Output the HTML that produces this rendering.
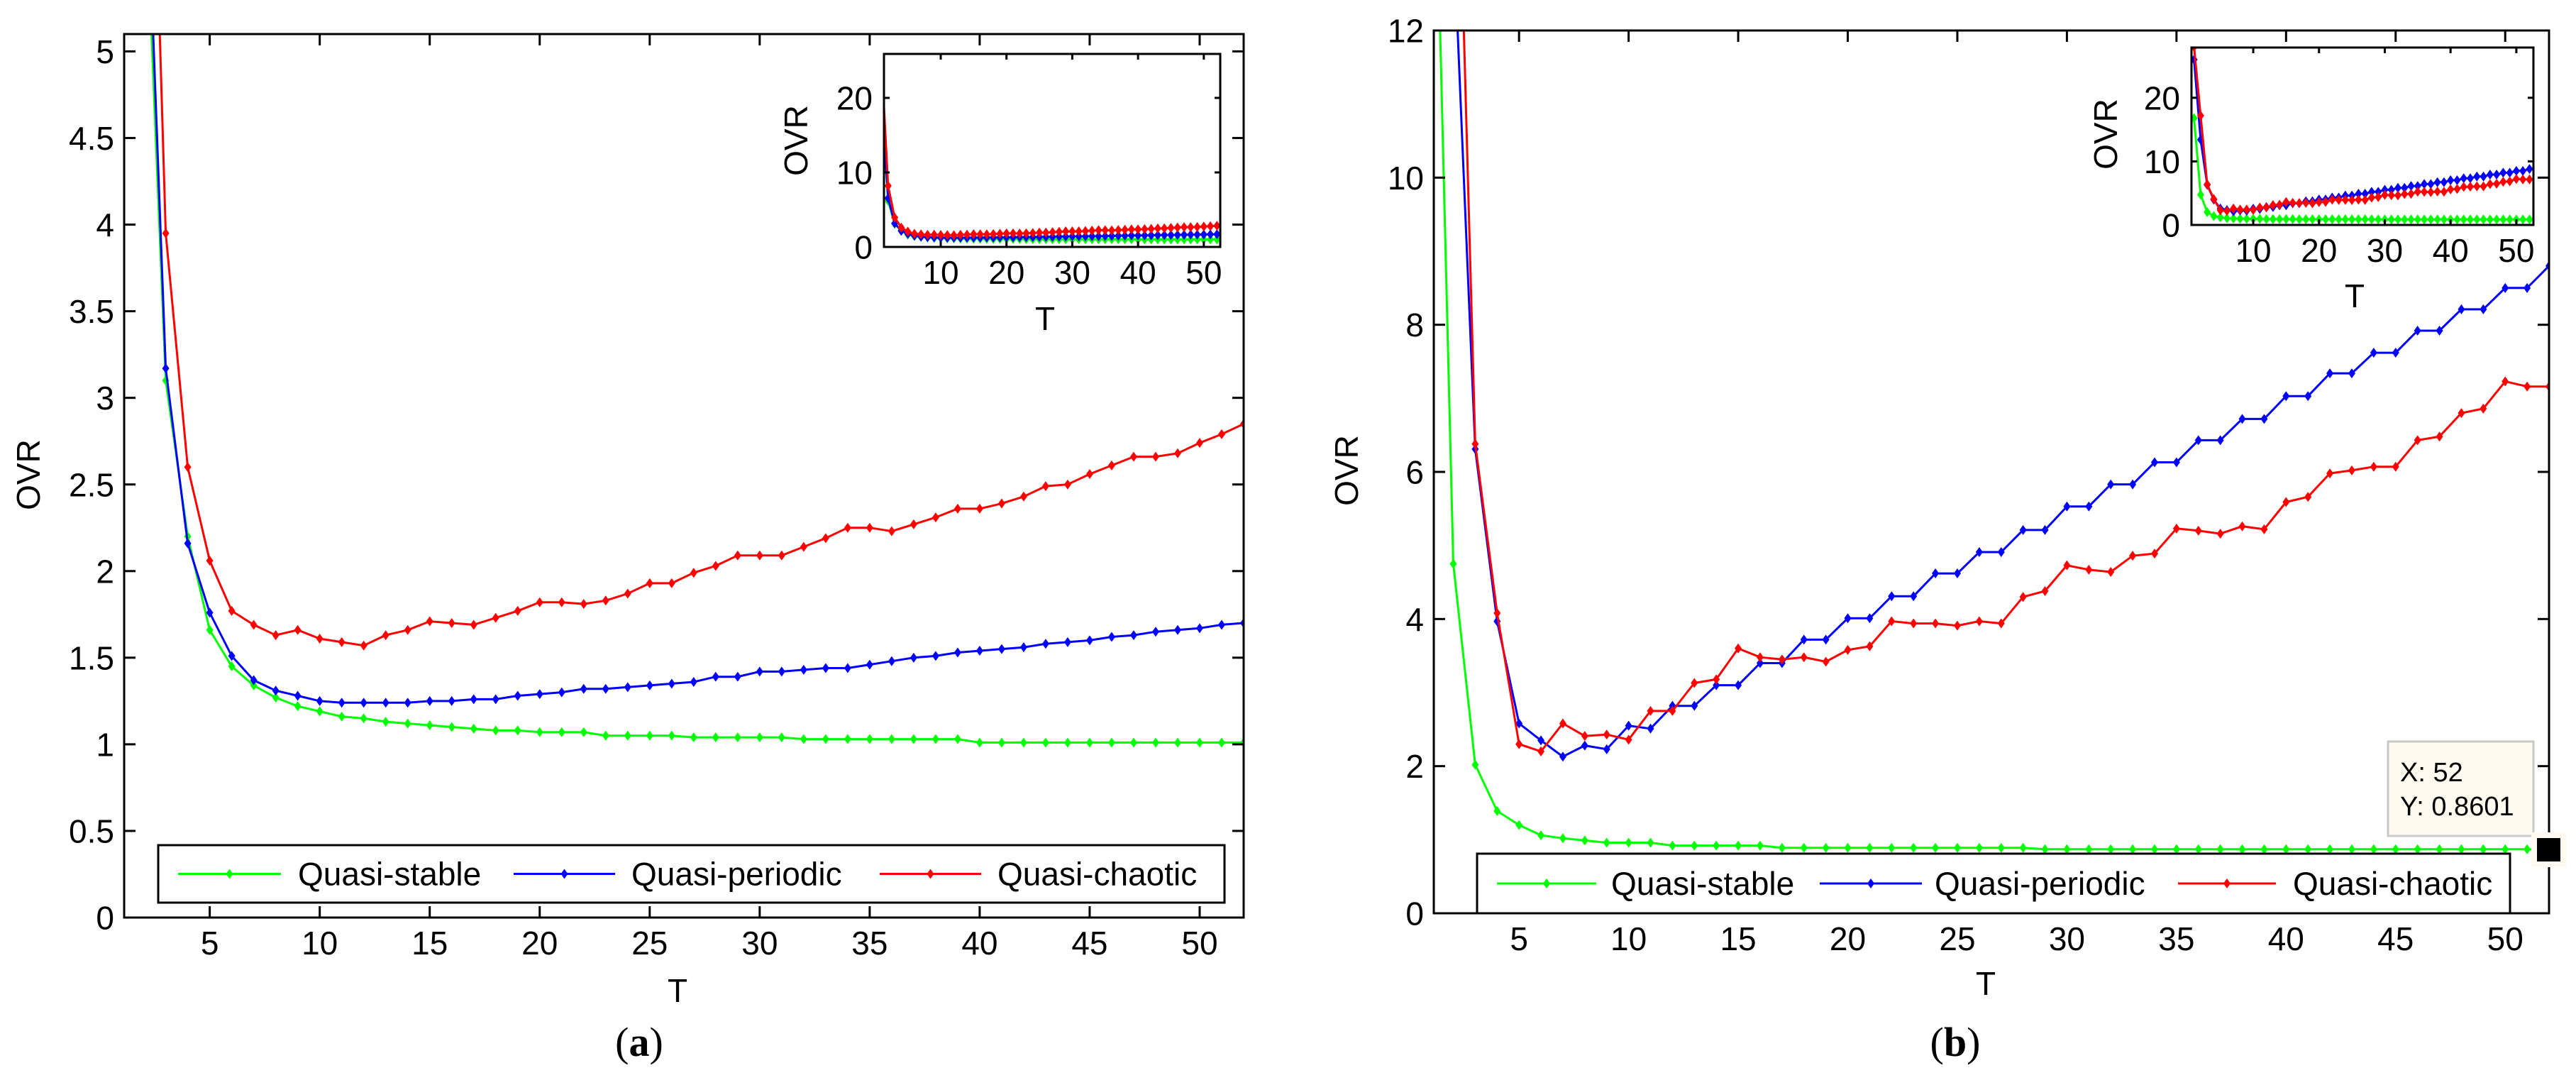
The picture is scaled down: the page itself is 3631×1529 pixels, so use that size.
<!DOCTYPE html>
<html><head><meta charset="utf-8"><style>
html,body{margin:0;padding:0;background:#fff;}
svg{display:block;font-family:"Liberation Sans",Arial,sans-serif;}
</style></head><body>
<svg id="fig" width="3631" height="1529" viewBox="0 0 3631 1529" xmlns="http://www.w3.org/2000/svg"></svg>
<script>
// ---------- data ----------
const tValues = Array.from({length:52},(_,i)=>i+1);
const aStable = [19.5,6.2,3.10,2.20,1.66,1.45,1.34,1.27,1.22,1.19,1.16,1.15,1.13,1.12,1.11,1.10,1.09,1.08,1.08,1.07,1.07,1.07,1.05,1.05,1.05,1.05,1.04,1.04,1.04,1.04,1.04,1.03,1.03,1.03,1.03,1.03,1.03,1.03,1.03,1.01,1.01,1.01,1.01,1.01,1.01,1.01,1.01,1.01,1.01,1.01,1.01,1.01];
const aPeriodic = [20.5,6.55,3.17,2.16,1.76,1.51,1.37,1.31,1.28,1.25,1.24,1.24,1.24,1.24,1.25,1.25,1.26,1.26,1.28,1.29,1.30,1.32,1.32,1.33,1.34,1.35,1.36,1.39,1.39,1.42,1.42,1.43,1.44,1.44,1.46,1.48,1.50,1.51,1.53,1.54,1.55,1.56,1.58,1.59,1.60,1.62,1.63,1.65,1.66,1.67,1.69,1.70];
const aChaotic = [25,8.2,3.95,2.60,2.06,1.77,1.69,1.63,1.66,1.61,1.59,1.57,1.63,1.66,1.71,1.70,1.69,1.73,1.77,1.82,1.82,1.81,1.83,1.87,1.93,1.93,1.99,2.03,2.09,2.09,2.09,2.14,2.19,2.25,2.25,2.23,2.27,2.31,2.36,2.36,2.39,2.43,2.49,2.50,2.56,2.61,2.66,2.66,2.68,2.74,2.79,2.85];
const bStable = [16.8,4.75,2.02,1.39,1.20,1.06,1.02,0.99,0.96,0.96,0.96,0.92,0.92,0.92,0.92,0.92,0.89,0.89,0.89,0.89,0.89,0.89,0.89,0.89,0.89,0.89,0.89,0.89,0.87,0.87,0.87,0.87,0.87,0.87,0.87,0.87,0.87,0.87,0.87,0.87,0.87,0.87,0.87,0.87,0.87,0.87,0.87,0.87,0.87,0.87,0.87,0.86];
const bPeriodic = [26,13.4,6.31,3.97,2.58,2.35,2.13,2.28,2.23,2.55,2.51,2.82,2.82,3.10,3.10,3.40,3.40,3.72,3.72,4.01,4.01,4.31,4.31,4.62,4.62,4.91,4.91,5.21,5.21,5.53,5.53,5.83,5.83,6.13,6.13,6.43,6.43,6.72,6.72,7.03,7.03,7.34,7.34,7.62,7.62,7.92,7.92,8.21,8.21,8.50,8.50,8.80];
const bChaotic = [28,17.2,6.38,4.08,2.30,2.20,2.58,2.41,2.43,2.36,2.75,2.75,3.13,3.18,3.60,3.48,3.45,3.48,3.42,3.58,3.63,3.97,3.94,3.94,3.91,3.97,3.94,4.30,4.38,4.73,4.67,4.64,4.86,4.89,5.23,5.20,5.16,5.26,5.22,5.59,5.66,5.98,6.02,6.07,6.07,6.43,6.48,6.80,6.86,7.23,7.16,7.16];
const seriesNames = ["Quasi-stable","Quasi-periodic","Quasi-chaotic"];
const seriesColors = ["#00ff00","#0000ff","#ff0000"];
const mainXTicks = [5,10,15,20,25,30,35,40,45,50];
const aYTicks = [0,0.5,1,1.5,2,2.5,3,3.5,4,4.5,5];
const bYTicks = [0,2,4,6,8,10,12];
const insetXTicks = [10,20,30,40,50];
const insetYTicks = [0,10,20];

const NS="http://www.w3.org/2000/svg";
const svg=document.getElementById('fig');
let clipN=0;
function mk(tag,attrs,parent){const e=document.createElementNS(NS,tag);for(const k in attrs)e.setAttribute(k,attrs[k]);(parent||svg).appendChild(e);return e;}
function scale(d0,d1,r0,r1){return v=>r0+(v-d0)*(r1-r0)/(d1-d0);}

function drawPanel(p){
  const g=mk('g',{});
  
  
  const X=scale(p.xd[0],p.xd[1],p.L,p.R), Y=scale(p.yd[0],p.yd[1],p.B,p.T);
  const id='clip'+(clipN++);
  const cp=mk('clipPath',{id:id},g); mk('rect',{x:p.L,y:p.T,width:p.R-p.L,height:p.B-p.T},cp);
  mk('rect',{x:p.L,y:p.T,width:p.R-p.L,height:p.B-p.T,fill:'#fff'},g);
  // series
  const sg=mk('g',{'clip-path':'url(#'+id+')'},g);
  p.series.forEach((s,si)=>{
    const pts=tValues.map((t,i)=>X(t).toFixed(1)+','+Y(s[i]).toFixed(1)).join(' ');
    const line=mk('polyline',{points:pts,fill:'none',stroke:seriesColors[si],'stroke-width':p.lw},sg);
    
    
    tValues.forEach((t,i)=>{
      const cx=X(t),cy=Y(s[i]);
      const m=mk('path',{d:`M${cx-p.ms} ${cy}L${cx} ${cy-p.ms*1.4}L${cx+p.ms} ${cy}L${cx} ${cy+p.ms*1.4}Z`,fill:seriesColors[si]},sg);
      
      
    });
  });
  // frame
  mk('rect',{x:p.L,y:p.T,width:p.R-p.L,height:p.B-p.T,fill:'none',stroke:'#000','stroke-width':p.fw},g);
  // ticks
  p.xt.forEach(v=>{const x=X(v);
    mk('line',{x1:x,y1:p.B,x2:x,y2:p.B-p.tl,stroke:'#000','stroke-width':p.fw},g);
    mk('line',{x1:x,y1:p.T,x2:x,y2:p.T+p.tl,stroke:'#000','stroke-width':p.fw},g);
    const t=mk('text',{x:x,y:p.B+p.xlo,'font-size':p.fs,'text-anchor':'middle'},g);t.textContent=v;
    
    
  });
  p.yt.forEach(v=>{const y=Y(v);
    mk('line',{x1:p.L,y1:y,x2:p.L+p.tl,y2:y,stroke:'#000','stroke-width':p.fw},g);
    mk('line',{x1:p.R,y1:y,x2:p.R-p.tl,y2:y,stroke:'#000','stroke-width':p.fw},g);
    const t=mk('text',{x:p.L-p.ylo,y:y+p.fs*0.36,'font-size':p.fs,'text-anchor':'end'},g);t.textContent=v;
    
    
  });
  const xl=mk('text',{x:p.xlab[0],y:p.xlab[1],'font-size':p.fs,'text-anchor':'middle'},g);xl.textContent='T';
  
  
  const yl=mk('text',{x:0,y:0,'font-size':p.fs,'text-anchor':'middle',transform:`translate(${p.ylab[0]},${p.ylab[1]}) rotate(-90)`},g);yl.textContent='OVR';
  
  
  return g;
}

function drawLegend(lg){
  const g=mk('g',{});
  
  
  mk('rect',{x:lg.x,y:lg.y,width:lg.w,height:lg.h,fill:'#fff',stroke:'#000','stroke-width':3},g);
  const cy=lg.y+lg.h/2;
  seriesNames.forEach((n,i)=>{
    const e=lg.entries[i];
    const eg=mk('g',{},g);
    
    
    mk('line',{x1:e[0],y1:cy,x2:e[1],y2:cy,stroke:seriesColors[i],'stroke-width':3},eg);
    const mx=(e[0]+e[1])/2;
    mk('path',{d:`M${mx-5} ${cy}L${mx} ${cy-7}L${mx+5} ${cy}L${mx} ${cy+7}Z`,fill:seriesColors[i]},eg);
    const t=mk('text',{x:e[2],y:cy+16,'font-size':46},eg);t.textContent=n;
  });
}

// Panel (a)
drawPanel({name:'panel-a-main',L:175,R:1753,T:48,B:1293,xd:[1.11,52],yd:[0,5.1],xt:mainXTicks,yt:aYTicks,
  series:[aStable,aPeriodic,aChaotic],lw:3,ms:5,fw:3,tl:16,fs:46,xlo:52,ylo:14,xlab:[955,1412],ylab:[56,669]});
drawPanel({name:'panel-a-inset',L:1246,R:1720,T:76,B:348,xd:[1.37,52.5],yd:[0,25.9],xt:insetXTicks,yt:insetYTicks,
  series:[aStable,aPeriodic,aChaotic],lw:3,ms:5,fw:3,tl:8,fs:46,xlo:52,ylo:16,xlab:[1473,465],ylab:[1138,198]});
drawLegend({x:223,y:1191,w:1503,h:81,entries:[[251,396,420],[724,867,890],[1240,1383,1406]]});

// Panel (b)
drawPanel({name:'panel-b-main',L:2021,R:3593,T:43,B:1287,xd:[1.11,52],yd:[0,12],xt:mainXTicks,yt:bYTicks,
  series:[bStable,bPeriodic,bChaotic],lw:3,ms:5,fw:3,tl:16,fs:46,xlo:52,ylo:14,xlab:[2799,1402],ylab:[1914,663]});
drawPanel({name:'panel-b-inset',L:3089,R:3571,T:67,B:317,xd:[0.61,52.6],yd:[0,27.9],xt:insetXTicks,yt:insetYTicks,
  series:[bStable,bPeriodic,bChaotic],lw:3,ms:5,fw:3,tl:8,fs:46,xlo:52,ylo:16,xlab:[3319,433],ylab:[2984,189]});
drawLegend({x:2082,y:1203,w:1456,h:84,entries:[[2110,2250,2271],[2565,2709,2727],[3070,3208,3232]]});

// datatip
const dt=mk('g',{});


mk('rect',{x:3366,y:1045,width:205,height:133,fill:'#fffaf0',stroke:'#c8c8c8','stroke-width':3},dt);
let t1=mk('text',{x:3383,y:1101,'font-size':38},dt);t1.textContent='X: 52';
let t2=mk('text',{x:3383,y:1149,'font-size':38},dt);t2.textContent='Y: 0.8601';
mk('rect',{x:3568,y:1173,width:49,height:49,fill:'#fffaf0'},dt);
mk('rect',{x:3576,y:1181,width:33,height:33,fill:'#000'},dt);

// captions
const ca=mk('text',{x:901,y:1488,'font-size':58,'font-family':'"Liberation Serif",serif','text-anchor':'middle'});
ca.innerHTML='(<tspan font-weight="bold">a</tspan>)';


const cb=mk('text',{x:2756,y:1488,'font-size':58,'font-family':'"Liberation Serif",serif','text-anchor':'middle'});
cb.innerHTML='(<tspan font-weight="bold">b</tspan>)';


</script>
</body></html>
